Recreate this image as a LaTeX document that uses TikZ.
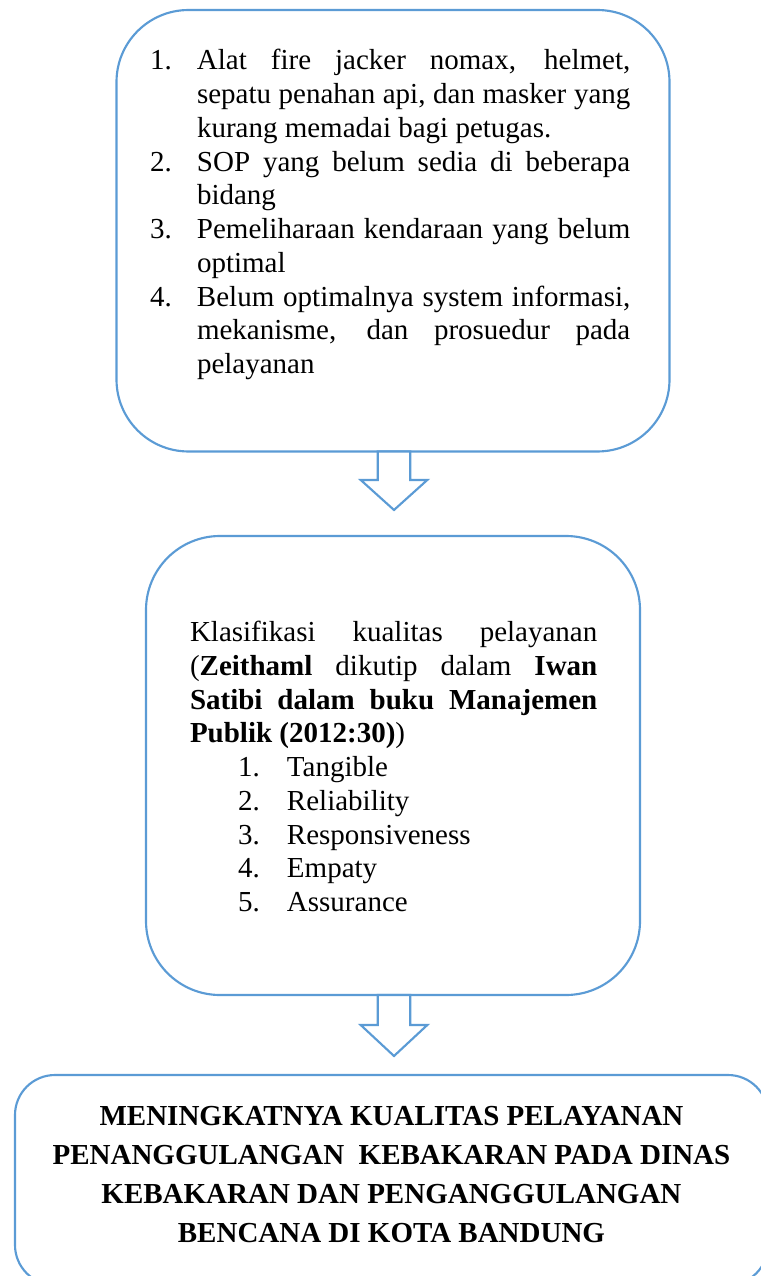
\documentclass[tikz,border=0pt]{standalone}
\usepackage{fontspec}
\setmainfont{Liberation Serif}
\usetikzlibrary{calc}
\definecolor{boxblue}{RGB}{91,155,213}
\newcommand\hangitem[3]{\par\noindent\hangindent=#1\hangafter=1 \makebox[#1][l]{#2}#3\par}
\newcommand\qualitem[2]{\par\noindent\hspace*{36pt}\makebox[36.75pt][l]{#1}#2\par}
\begin{document}
\begin{tikzpicture}[x=0.75pt,y=-0.75pt,
  box/.style={draw=boxblue, line width=1.6pt, inner sep=0pt, outer sep=0pt},
  txt/.style={inner sep=0pt, outer sep=0pt, font=\fontsize{21.75pt}{25.3pt}\selectfont},
  blockarrow/.style={draw=boxblue, fill=white, line width=1.6pt, line join=miter}]
\useasboundingbox (0,0) rectangle (760,1276);
% boxes
\node[box, minimum width=414.75pt, minimum height=331.1pt, rounded corners=54pt] (top) at (393,230.75) {};
\node[box, minimum width=370.5pt, minimum height=344.25pt, rounded corners=55.5pt] (mid) at (393,765.5) {};
\node[box, minimum width=564.75pt, minimum height=157.5pt, rounded corners=30pt] (bot) at (391.5,1180) {};
% arrows
\draw[blockarrow] ($(top.south)+(-15.2,0)$) -- ($(top.south)+(-15.2,28.5)$) -- ($(top.south)+(-32.3,28.5)$)
  -- ($(top.south)+(1,58.5)$) -- ($(top.south)+(34.3,28.5)$) -- ($(top.south)+(17.2,28.5)$)
  -- ($(top.south)+(17.2,0)$) -- cycle;
\draw[blockarrow] ($(mid.south)+(-15.2,0)$) -- ($(mid.south)+(-15.2,30)$) -- ($(mid.south)+(-32.3,30)$)
  -- ($(mid.south)+(1,61)$) -- ($(mid.south)+(34.3,30)$) -- ($(mid.south)+(17.2,30)$)
  -- ($(mid.south)+(17.2,0)$) -- cycle;
% texts
\node[txt, anchor=base west] (toptext) at (150,70) {\parbox[t]{360.25pt}{\tolerance=10000
\hangitem{35.25pt}{1.}{Alat fire jacker nomax, helmet,\linebreak sepatu penahan api, dan masker yang\linebreak kurang memadai bagi petugas.}
\hangitem{35.25pt}{2.}{SOP yang belum sedia di beberapa\linebreak bidang}
\hangitem{35.25pt}{3.}{Pemeliharaan kendaraan yang belum\linebreak optimal}
\hangitem{35.25pt}{4.}{Belum optimalnya system informasi,\linebreak mekanisme, dan prosuedur pada\linebreak pelayanan}}};
\node[txt, anchor=base west] (midtext) at (190,641.7) {\parbox[t]{305.5pt}{\tolerance=10000
\noindent Klasifikasi kualitas pelayanan\linebreak (\textbf{Zeithaml} dikutip dalam \textbf{Iwan}\linebreak \textbf{Satibi dalam buku Manajemen}\linebreak \textbf{Publik (2012:30)})\par
\qualitem{1.}{Tangible}
\qualitem{2.}{Reliability}
\qualitem{3.}{Responsiveness}
\qualitem{4.}{Empaty}
\qualitem{5.}{Assurance}}};
\node[txt, anchor=base] (bottext) at (391.5,1125) {\parbox[t]{555pt}{\centering\bfseries\fontsize{21.75pt}{29.25pt}\selectfont
MENINGKATNYA KUALITAS PELAYANAN\\
PENANGGULANGAN\ \ KEBAKARAN PADA DINAS\\
KEBAKARAN DAN PENGANGGULANGAN\\
BENCANA DI KOTA BANDUNG}};
\end{tikzpicture}
\end{document}
